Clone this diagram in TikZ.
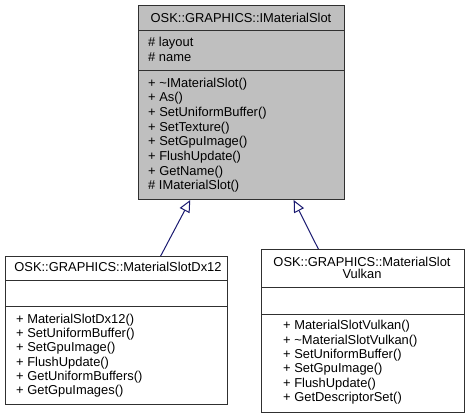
\documentclass[tikz,border=0pt]{standalone}
\usepackage{fontspec}
\setmainfont{Liberation Sans}
\usetikzlibrary{arrows.meta,calc}
\definecolor{boxgray}{HTML}{BFBFBF}
\definecolor{edgeblue}{HTML}{191970}
\definecolor{border}{HTML}{303030}
\begin{document}
\begin{tikzpicture}[x=1pt,y=-1pt,
  cls/.style={draw=border,line width=1pt,rectangle,inner sep=0pt,anchor=north west},
  txt/.style={anchor=base west,inner sep=0pt,font=\fontsize{12.9}{14}\selectfont},
  ttl/.style={anchor=base,inner sep=0pt,font=\fontsize{12.9}{14}\selectfont},
  sep/.style={draw=border,line width=1pt},
  inherit/.style={draw=edgeblue,line width=1pt,-{Triangle[open,length=12pt,width=11pt,fill=white]}}]
\useasboundingbox (0,0) rectangle (469,419);
% base class
\node[cls,fill=boxgray,minimum width=206pt,minimum height=194pt] (base) at (138,5) {};
\draw[sep] (base.west |- {(0,31)}) -- (base.east |- {(0,31)});
\draw[sep] (base.west |- {(0,71)}) -- (base.east |- {(0,71)});
\node[ttl] (bt) at (241,22.3) {OSK::GRAPHICS::IMaterialSlot};
\node[txt] (ba1) at (148,46.7) {\# layout};
\node[txt] (ba2) at (148,61.6) {\# name};
\node[txt] (bm1) at (148,87.3) {+ \textasciitilde IMaterialSlot()};
\node[txt] (bm2) at (148,101.95) {+ As()};
\node[txt] (bm3) at (148,116.6) {+ SetUniformBuffer()};
\node[txt] (bm4) at (148,131.25) {+ SetTexture()};
\node[txt] (bm5) at (148,145.9) {+ SetGpuImage()};
\node[txt] (bm6) at (148,160.55) {+ FlushUpdate()};
\node[txt] (bm7) at (148,175.2) {+ GetName()};
\node[txt] (bm8) at (148,189.85) {\# IMaterialSlot()};
% Dx12
\node[cls,fill=white,minimum width=222pt,minimum height=148pt] (dx) at (5,256) {};
\draw[sep] (dx.west |- {(0,281)}) -- (dx.east |- {(0,281)});
\draw[sep] (dx.west |- {(0,307)}) -- (dx.east |- {(0,307)});
\node[ttl] (dxt) at (118,271.7) {OSK::GRAPHICS::MaterialSlotDx12};
\node[txt] (d1) at (16,323.3) {+ MaterialSlotDx12()};
\node[txt] (d2) at (16,337.55) {+ SetUniformBuffer()};
\node[txt] (d3) at (16,351.8) {+ SetGpuImage()};
\node[txt] (d4) at (16,366.05) {+ FlushUpdate()};
\node[txt] (d5) at (16,380.3) {+ GetUniformBuffers()};
\node[txt] (d6) at (16,394.55) {+ GetGpuImages()};
% Vulkan
\node[cls,fill=white,minimum width=203pt,minimum height=163pt] (vk) at (261,249) {};
\draw[sep] (vk.west |- {(0,288)}) -- (vk.east |- {(0,288)});
\draw[sep] (vk.west |- {(0,315)}) -- (vk.east |- {(0,315)});
\node[ttl] (vkt1) at (362,267) {OSK::GRAPHICS::MaterialSlot};
\node[ttl] (vkt2) at (362,279) {Vulkan};
\node[txt] (v1) at (283,330) {+ MaterialSlotVulkan()};
\node[txt] (v2) at (283,344.33) {+ \textasciitilde MaterialSlotVulkan()};
\node[txt] (v3) at (283,358.66) {+ SetUniformBuffer()};
\node[txt] (v4) at (283,373) {+ SetGpuImage()};
\node[txt] (v5) at (283,387.33) {+ FlushUpdate()};
\node[txt] (v6) at (283,401.66) {+ GetDescriptorSet()};
% inheritance
\draw[inherit] ($(dx.north west)!0.698!(dx.north east)$) -- ($(base.south west)!0.2524!(base.south east)$);
\draw[inherit] ($(vk.north west)!0.281!(vk.north east)$) -- ($(base.south west)!0.752!(base.south east)$);
\end{tikzpicture}
\end{document}
